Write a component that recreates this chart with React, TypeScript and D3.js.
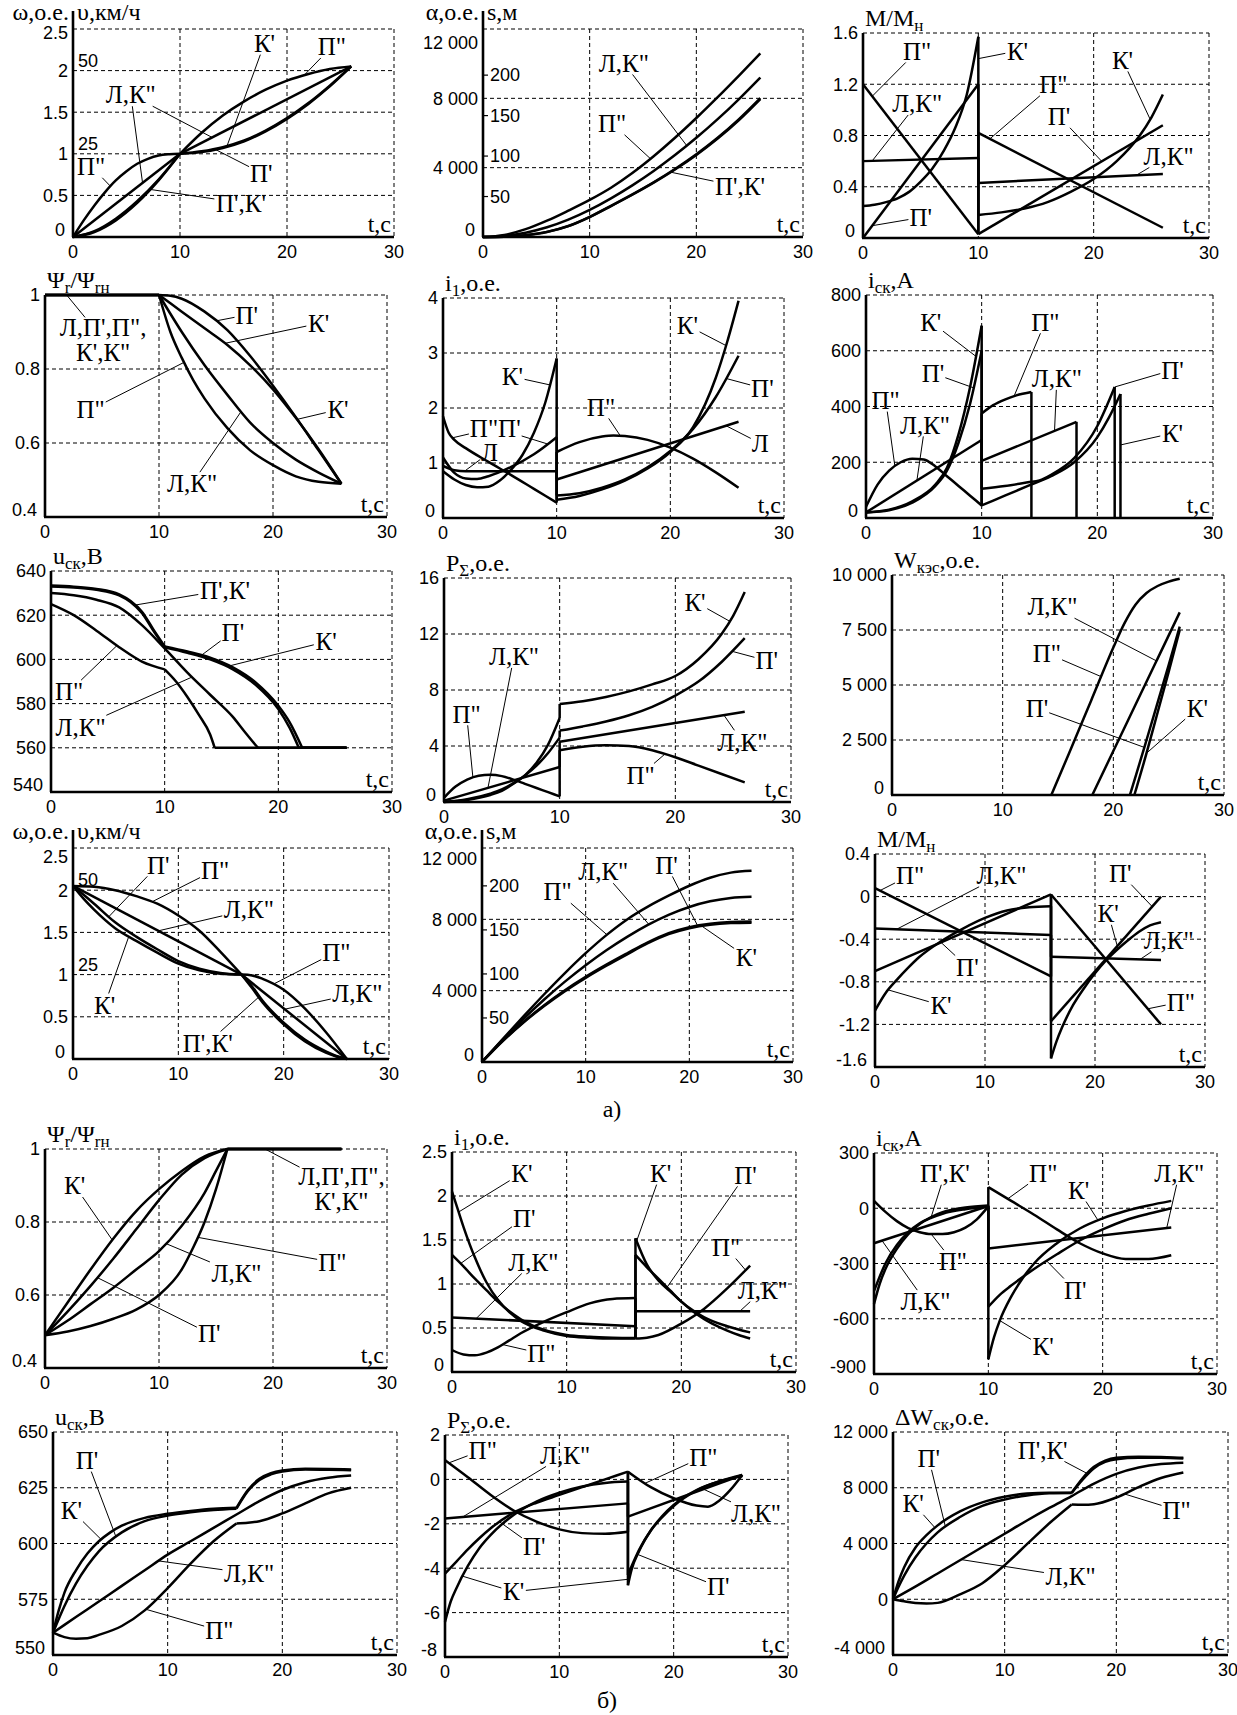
import React from 'react';
import * as d3 from 'd3';

type Pt = [number, number];
type Curve = Pt[][];

// ---------- tick values ----------
const xTicks = [0, 10, 20, 30];
const ytW = [0, 0.5, 1, 1.5, 2, 2.5];
const ytA = [0, 4000, 8000, 12000];
const ytM = [0, 0.4, 0.8, 1.2, 1.6];
const ytPsi = [0.4, 0.6, 0.8, 1];
const ytI1 = [0, 1, 2, 3, 4];
const ytIsk = [0, 200, 400, 600, 800];
const ytU = [540, 560, 580, 600, 620, 640];
const ytP = [0, 4, 8, 12, 16];
const ytWk = [0, 2500, 5000, 7500, 10000];
const ytMd = [-1.6, -1.2, -0.8, -0.4, 0, 0.4];
const ytI1b = [0, 0.5, 1, 1.5, 2, 2.5];
const ytIskb = [-900, -600, -300, 0, 300];
const ytUb = [550, 575, 600, 625, 650];
const ytPb = [-8, -6, -4, -2, 0, 2];
const ytDW = [-4000, 0, 4000, 8000, 12000];
const secV = [25, 50];
const secS = [50, 100, 150, 200];

// ---------- а) разгон ----------
const a1L: Curve = [[[0, 0], [10, 1]], [[10, 1], [26, 2.05]]];
const a1P2: Curve = [[[0, 0], [1, 0.2], [2, 0.38], [3, 0.54], [4, 0.68], [5, 0.79], [6, 0.88], [7, 0.94], [8, 0.98], [9, 0.995], [10, 1]],
  [[10, 1], [12, 1.25], [14, 1.46], [16, 1.63], [18, 1.77], [20, 1.88], [22, 1.96], [24, 2.02], [26, 2.05]]];
const a1P1: Curve = [[[0, 0], [2, 0.06], [4, 0.2], [6, 0.41], [8, 0.68], [10, 1]],
  [[10, 1], [12, 1.02], [14, 1.07], [16, 1.15], [18, 1.27], [20, 1.42], [22, 1.6], [24, 1.81], [26, 2.05]]];
const a1K1: Curve = [[[0, 0], [2, 0.07], [4, 0.22], [6, 0.43], [8, 0.69], [10, 1]],
  [[10, 1], [12, 1.03], [14, 1.08], [16, 1.16], [18, 1.28], [20, 1.43], [22, 1.61], [24, 1.82], [26, 2.05]]];

const a2L: Curve = [[[0, 0], [2, 63], [4, 250], [6, 563], [8, 1002], [10, 1565], [12, 2232], [14, 2981], [16, 3812], [18, 4726], [20, 5722], [22, 6798], [24, 7960], [26, 9202]]];
const a2P2: Curve = [[[0, 0], [2, 119], [4, 451], [6, 939], [8, 1521], [10, 2141], [12, 2845], [14, 3693], [16, 4661], [18, 5725], [20, 6867], [22, 8069], [24, 9315], [26, 10589]]];
const a2P1: Curve = [[[0, 0], [2, 19], [4, 100], [6, 288], [8, 626], [10, 1152], [12, 1784], [14, 2438], [16, 3133], [18, 3891], [20, 4733], [22, 5678], [24, 6748], [26, 7960]]];
const a2K1: Curve = [[[0, 0], [2, 20], [4, 104], [6, 296], [8, 636], [10, 1165], [12, 1800], [14, 2460], [16, 3160], [18, 3925], [20, 4775], [22, 5725], [24, 6800], [26, 8010]]];

const a3P2: Curve = [[[0, 1.2], [10, 0.03]], [[10, 0.82], [26, 0.08]]];
const a3L: Curve = [[[0, 0.6], [10, 0.625]], [[10, 0.43], [26, 0.5]]];
const a3P1: Curve = [[[0, 0], [10, 1.2]], [[10, 0.03], [26, 0.88]]];
const a3K1: Curve = [[[0, 0.25], [1, 0.26], [2, 0.28], [3, 0.31], [4, 0.36], [5, 0.44], [6, 0.54], [7, 0.68], [8, 0.86], [9, 1.12], [10, 1.57]],
  [[10, 0.18], [12, 0.2], [14, 0.23], [16, 0.28], [18, 0.36], [20, 0.46], [22, 0.6], [24, 0.8], [25, 0.94], [26, 1.12]]];

const a4P1: Curve = [[[0, 1], [10, 1]], [[10, 1], [11, 0.998], [12, 0.99], [14, 0.955], [16, 0.905], [18, 0.835], [20, 0.755], [22, 0.67], [24, 0.58], [26, 0.49]]];
const a4K1: Curve = [[[0, 1], [10, 1]], [[10, 1], [12, 0.955], [14, 0.91], [16, 0.865], [18, 0.81], [20, 0.745], [22, 0.668], [24, 0.583], [26, 0.49]]];
const a4L: Curve = [[[0, 1], [10, 1]], [[10, 1], [12, 0.9], [14, 0.81], [16, 0.73], [18, 0.655], [20, 0.6], [22, 0.555], [24, 0.52], [26, 0.49]]];
const a4P2: Curve = [[[0, 1], [10, 1]], [[10, 1], [11, 0.9], [12, 0.83], [13, 0.77], [14, 0.72], [16, 0.64], [18, 0.58], [20, 0.54], [22, 0.51], [24, 0.495], [26, 0.49]]];

const a5P2: Curve = [[[0, 1.85], [0.5, 1.55], [1, 1.42], [2, 1.27], [4, 1.02], [6, 0.78], [8, 0.53], [10, 0.28]],
  [[10, 1.2], [12, 1.38], [14, 1.48], [15, 1.5], [16, 1.49], [18, 1.42], [20, 1.28], [22, 1.08], [24, 0.83], [26, 0.55]]];
const a5P1: Curve = [[[0, 1.1], [1, 0.82], [2, 0.72], [3, 0.71], [4, 0.76], [6, 0.93], [8, 1.16], [10, 1.47]],
  [[10, 0.41], [12, 0.45], [14, 0.55], [16, 0.7], [18, 0.92], [20, 1.22], [22, 1.62], [24, 2.2], [26, 2.95]]];
const a5L: Curve = [[[0, 0.95], [1, 0.87], [2, 0.85], [4, 0.85], [10, 0.85]], [[10, 0.7], [26, 1.75]]];
const a5K1: Curve = [[[0, 0.85], [1, 0.7], [2, 0.6], [3, 0.56], [4, 0.57], [5, 0.68], [6, 0.88], [7, 1.15], [8, 1.55], [9, 2.1], [10, 2.9]],
  [[10, 0.33], [12, 0.4], [14, 0.52], [16, 0.68], [18, 0.9], [20, 1.2], [22, 1.65], [24, 2.55], [25, 3.2], [26, 3.95]]];

const a6K1: Curve = [[[0, 20], [2, 30], [4, 60], [6, 120], [7, 180], [8, 300], [9, 470], [10, 690]],
  [[10, 45], [12, 80], [14, 115], [16, 150], [18, 200], [20, 290], [21, 360], [22, 445]], [[22, 0]]];
const a6P1: Curve = [[[0, 20], [2, 28], [4, 55], [6, 115], [7, 170], [8, 270], [9, 410], [10, 600]],
  [[10, 105], [12, 115], [14, 128], [15, 135], [16, 155], [18, 215], [20, 330], [21.5, 470]], [[21.5, 0]]];
const a6P2: Curve = [[[0, 40], [1, 120], [2, 170], [3, 200], [4, 213], [5, 210], [6, 185], [7, 150], [8, 115], [9, 80], [10, 45]],
  [[10, 375], [11, 405], [12, 425], [13, 440], [14.3, 452]], [[14.3, 0]]];
const a6L: Curve = [[[0, 20], [10, 280]], [[10, 205], [18.2, 345]], [[18.2, 0]]];

const a7P1: Curve = [[[0, 633], [2, 632.5], [4, 631.5], [6, 629], [7, 626], [8, 621], [9, 613], [10, 605.5]],
  [[10, 605.5], [12, 603], [14, 600], [16, 595.5], [18, 588.5], [20, 577.5], [21, 569], [21.8, 560]], [[21.8, 560], [26, 560]]];
const a7K1: Curve = [[[0, 633.4], [2, 632.9], [4, 631.9], [6, 629.4], [7, 626.4], [8, 621.6], [9, 613.6], [10, 605.9]],
  [[10, 605.9], [12, 603.6], [14, 600.8], [16, 596.4], [18, 589.6], [20, 579], [21, 571.5], [22.1, 560]], [[22.1, 560], [26, 560]]];
const a7L: Curve = [[[0, 630], [2, 629], [4, 627], [6, 623.5], [8, 615.5], [10, 605], [12, 594], [14, 584], [16, 574], [17, 567.5], [18.2, 560]], [[18.2, 560], [26, 560]]];
const a7P2: Curve = [[[0, 625], [2, 620], [4, 613], [6, 605.5], [8, 599], [10, 595.5]],
  [[10, 595.5], [11, 590], [12, 583], [13, 575], [14, 566], [14.4, 560]], [[14.4, 560], [26, 560]]];

const a8K1: Curve = [[[0, 0], [2, 0.15], [4, 0.5], [5, 0.8], [6, 1.3], [7, 1.9], [8, 2.8], [9, 4.1], [10, 6.0]],
  [[10, 7.0], [12, 7.2], [14, 7.5], [16, 7.9], [18, 8.4], [20, 9.0], [22, 10.2], [24, 12.0], [25, 13.3], [26, 15.0]]];
const a8P1: Curve = [[[0, 0], [2, 0.2], [4, 0.6], [5, 0.9], [6, 1.35], [7, 1.9], [8, 2.6], [9, 3.5], [10, 4.6]],
  [[10, 5.1], [12, 5.4], [14, 5.75], [16, 6.2], [18, 6.8], [20, 7.6], [22, 8.6], [24, 10.0], [26, 11.7]]];
const a8L: Curve = [[[0, 0.1], [10, 2.5]], [[10, 4.3], [26, 6.45]]];
const a8P2: Curve = [[[0, 0.3], [1, 1.1], [2, 1.6], [3, 1.88], [4, 1.95], [5, 1.85], [6, 1.6], [7, 1.3], [8, 1.0], [9, 0.7], [10, 0.4]],
  [[10, 3.7], [12, 3.95], [14, 4.05], [16, 4.0], [18, 3.7], [20, 3.2], [22, 2.6], [24, 2.0], [26, 1.4]]];

const a9P2: Curve = [[[14.4, 0], [16, 1900], [18, 4300], [20, 6700], [21, 7800], [22, 8650], [23, 9180], [24, 9500], [25, 9700], [26, 9830]]];
const a9L: Curve = [[[18.1, 0], [20, 2000], [22, 4100], [24, 6200], [26, 8300]]];
const a9P1: Curve = [[[21.5, 0], [22, 820], [23, 2500], [24, 4200], [25, 5900], [26, 7650]]];
const a9K1: Curve = [[[21.9, 0], [22, 170], [23, 1900], [24, 3750], [25, 5600], [26, 7500]]];

// ---------- а) торможение ----------
const b1P2: Curve = [[[0, 2.05], [2, 2.04], [4, 2.0], [6, 1.93], [8, 1.84], [10, 1.7], [12, 1.52], [14, 1.27], [16, 1.0]],
  [[16, 1.0], [17, 0.99], [18, 0.95], [20, 0.82], [22, 0.6], [24, 0.32], [26, 0]]];
const b1L: Curve = [[[0, 2.05], [16, 1.0]], [[16, 1.0], [26, 0]]];
const b1P1: Curve = [[[0, 2.05], [2, 1.84], [4, 1.62], [6, 1.45], [8, 1.3], [10, 1.16], [12, 1.07], [14, 1.02], [16, 1.0]],
  [[16, 1.0], [17, 0.86], [18, 0.69], [20, 0.43], [22, 0.23], [24, 0.09], [25, 0.035], [26, 0]]];
const b1K1: Curve = [[[0, 2.05], [1, 1.9], [2, 1.77], [4, 1.55], [6, 1.4], [8, 1.26], [10, 1.13], [12, 1.05], [14, 1.01], [16, 1.0]],
  [[16, 1.0], [17, 0.84], [18, 0.67], [20, 0.41], [22, 0.21], [24, 0.075], [25, 0.03], [26, 0]]];

const b2P2: Curve = [[[0, 0], [2, 1288], [4, 2561], [6, 3799], [8, 4986], [10, 6102], [12, 7116], [14, 7995], [16, 8710], [18, 9324], [20, 9882], [22, 10329], [24, 10619], [26, 10719]]];
const b2L: Curve = [[[0, 0], [2, 1251], [4, 2416], [6, 3503], [8, 4505], [10, 5424], [12, 6262], [14, 7015], [16, 7686], [18, 8253], [20, 8694], [22, 9009], [24, 9198], [26, 9261]]];
const b2P1: Curve = [[[0, 0], [2, 1188], [4, 2246], [6, 3184], [8, 4025], [10, 4775], [12, 5457], [14, 6095], [16, 6713], [18, 7226], [20, 7562], [22, 7758], [24, 7849], [26, 7875]]];
const b2K1: Curve = [[[0, 0], [2, 1170], [4, 2215], [6, 3140], [8, 3975], [10, 4720], [12, 5400], [14, 6040], [16, 6660], [18, 7170], [20, 7505], [22, 7700], [24, 7790], [26, 7815]]];

const b3P2: Curve = [[[0, 0.08], [16, -0.75]], [[16, 0.02], [26, -1.2]]];
const b3L: Curve = [[[0, -0.3], [16, -0.36]], [[16, -0.565], [26, -0.595]]];
const b3P1: Curve = [[[0, -0.7], [16, 0.02]], [[16, -1.17], [26, 0]]];
const b3K1: Curve = [[[0, -1.07], [1, -0.9], [2, -0.78], [3, -0.67], [4, -0.57], [6, -0.42], [8, -0.3], [10, -0.2], [12, -0.13], [14, -0.1], [16, -0.09]],
  [[16, -1.52], [16.5, -1.36], [17, -1.23], [18, -1.02], [19, -0.86], [20, -0.72], [21, -0.6], [22, -0.5], [23, -0.41], [24, -0.33], [25, -0.27], [26, -0.24]]];

// ---------- б) ----------
const c1K1: Curve = [[[0, 0.49], [2, 0.58], [4, 0.67], [6, 0.755], [8, 0.83], [10, 0.89], [12, 0.94], [14, 0.98], [16, 1.0]], [[16, 1], [26, 1]]];
const c1P1: Curve = [[[0, 0.49], [2, 0.555], [4, 0.625], [6, 0.7], [8, 0.78], [10, 0.86], [12, 0.93], [14, 0.975], [16, 1.0]], [[16, 1], [26, 1]]];
const c1L: Curve = [[[0, 0.49], [2, 0.53], [4, 0.575], [6, 0.62], [8, 0.67], [10, 0.72], [12, 0.79], [14, 0.88], [15, 0.94], [16, 1.0]], [[16, 1], [26, 1]]];
const c1P2: Curve = [[[0, 0.49], [2, 0.5], [4, 0.515], [6, 0.535], [8, 0.56], [10, 0.6], [12, 0.67], [13, 0.73], [14, 0.8], [15, 0.89], [16, 1.0]], [[16, 1], [26, 1]]];

const c2K1: Curve = [[[0, 2.05], [0.5, 1.85], [1, 1.65], [2, 1.3], [3, 1.02], [4, 0.82], [5, 0.68], [6, 0.58], [8, 0.47], [10, 0.41], [12, 0.39], [14, 0.38], [16, 0.38]],
  [[16, 1.52], [17, 1.22], [18, 1.04], [19, 0.92], [20, 0.8], [21, 0.69], [22, 0.6], [23, 0.53], [24, 0.47], [25, 0.42], [26, 0.38]]];
const c2P1: Curve = [[[0, 1.33], [1, 1.2], [2, 1.06], [3, 0.93], [4, 0.8], [5, 0.69], [6, 0.6], [8, 0.48], [10, 0.42], [12, 0.4], [14, 0.39], [16, 0.385]],
  [[16, 1.33], [17, 1.19], [18, 1.06], [19, 0.93], [20, 0.8], [21, 0.7], [22, 0.62], [24, 0.52], [26, 0.45]]];
const c2L: Curve = [[[0, 0.62], [16, 0.52]], [[16, 0.69], [26, 0.69]]];
const c2P2: Curve = [[[0, 0.25], [1, 0.2], [2, 0.19], [3, 0.22], [4, 0.28], [5, 0.36], [6, 0.44], [8, 0.57], [10, 0.68], [12, 0.78], [14, 0.83], [16, 0.84]],
  [[16, 0.38], [17, 0.39], [18, 0.42], [20, 0.55], [22, 0.72], [24, 0.95], [26, 1.21]]];

const c3P2: Curve = [[[0, 40], [1, -20], [2, -70], [3, -108], [4, -130], [5, -140], [6, -140], [7, -130], [8, -105], [9, -60], [10, 10]],
  [[10, 115], [12, 40], [14, -35], [16, -115], [18, -190], [20, -245], [22, -275], [24, -275], [26, -255]]];
const c3K1: Curve = [[[0, -520], [0.5, -410], [1, -330], [2, -220], [3, -140], [4, -85], [5, -48], [6, -22], [8, 4], [10, 15]],
  [[10, -820], [10.5, -700], [11, -610], [12, -480], [13, -380], [14, -300], [16, -190], [18, -110], [20, -55], [22, -15], [24, 15], [26, 40]]];
const c3P1: Curve = [[[0, -450], [1, -300], [2, -200], [3, -130], [4, -82], [5, -52], [6, -30], [8, -5], [10, 10]],
  [[10, -535], [11, -470], [12, -420], [14, -330], [16, -250], [18, -175], [20, -115], [22, -65], [24, -30], [26, 0]]];
const c3L: Curve = [[[0, -190], [10, 12]], [[10, -218], [26, -105]]];

const c4K1: Curve = [[[0, 560], [0.5, 570], [1, 578], [2, 588], [3, 595.5], [4, 601], [5, 605], [6, 608], [8, 611.5], [10, 613.3], [12, 614.6], [14, 615.6], [16, 616]],
  [[16, 616], [17, 624], [18, 629], [19, 631.5], [20, 632.7], [22, 633.5], [24, 633.4], [26, 633.2]]];
const c4P1: Curve = [[[0, 560], [1, 572], [2, 582], [3, 590], [4, 596.5], [6, 605], [8, 610], [10, 612.5], [12, 614], [14, 615], [16, 615.6]],
  [[16, 615.6], [17, 623.5], [18, 628.5], [19, 631], [20, 632.3], [22, 633.2], [24, 633.1], [26, 632.9]]];
const c4L: Curve = [[[0, 560], [2, 567], [4, 574], [6, 581], [8, 588], [10, 595], [12, 601], [14, 607], [16, 613], [18, 619], [20, 624], [22, 627.5], [24, 629.5], [26, 630.5]]];
const c4P2: Curve = [[[0, 560], [1, 558], [2, 557.3], [3, 557.5], [4, 559], [6, 563], [8, 570], [10, 580], [12, 591], [14, 601], [16, 609]],
  [[16, 609], [17, 609.3], [18, 610], [20, 613.5], [22, 618], [24, 622.5], [26, 625]]];

const c5P2: Curve = [[[0, 0.87], [2, 0.1], [4, -0.7], [6, -1.4], [8, -1.9], [10, -2.25], [12, -2.42], [14, -2.45], [16, -2.36]],
  [[16, 0.35], [18, -0.35], [20, -0.85], [22, -1.18], [23, -1.23], [24, -0.95], [25, -0.45], [26, 0.2]]];
const c5L: Curve = [[[0, -1.76], [16, -1.08]], [[16, -1.68], [26, 0.2]]];
const c5P1: Curve = [[[0, -4.24], [1, -3.7], [2, -3.15], [3, -2.65], [4, -2.2], [6, -1.5], [8, -1.05], [10, -0.7], [12, -0.35], [14, 0.0], [16, 0.35]],
  [[16, -4.3], [16.5, -3.7], [17, -3.15], [18, -2.3], [19, -1.7], [20, -1.2], [22, -0.5], [24, -0.08], [26, 0.2]]];
const c5K1: Curve = [[[0, -6.42], [0.5, -5.5], [1, -4.9], [2, -3.9], [3, -3.1], [4, -2.5], [6, -1.6], [8, -1.0], [10, -0.6], [12, -0.32], [14, -0.16], [16, -0.1]],
  [[16, -4.77], [16.3, -4.1], [17, -3.2], [18, -2.3], [19, -1.65], [20, -1.15], [22, -0.48], [24, -0.1], [26, 0.15]]];

const c6K1: Curve = [[[0, 0], [0.5, 1300], [1, 2300], [2, 3700], [3, 4600], [4, 5300], [6, 6300], [8, 6950], [10, 7350], [12, 7580], [14, 7650], [16, 7640]],
  [[16, 7640], [17, 8700], [18, 9500], [19, 9950], [20, 10150], [22, 10220], [24, 10200], [26, 10150]]];
const c6P1: Curve = [[[0, 0], [0.5, 900], [1, 1700], [2, 3000], [3, 4000], [4, 4800], [6, 5900], [8, 6700], [10, 7150], [12, 7450], [14, 7600], [16, 7620]],
  [[16, 7620], [17, 8600], [18, 9400], [19, 9850], [20, 10050], [22, 10150], [24, 10150], [26, 10100]]];
const c6L: Curve = [[[0, 0], [2, 900], [4, 1850], [6, 2800], [8, 3750], [10, 4700], [12, 5650], [14, 6550], [16, 7400], [18, 8300], [20, 9000], [22, 9450], [24, 9700], [26, 9800]]];
const c6P2: Curve = [[[0, 0], [1, -150], [2, -270], [3, -300], [4, -260], [6, 350], [8, 1150], [10, 2450], [12, 3950], [14, 5450], [16, 6800]],
  [[16, 6800], [17, 6780], [18, 6820], [20, 7300], [22, 8050], [24, 8700], [26, 9100]]];

// ---------- labels ----------
const sP1 = "П'", sP2 = 'П"', sK1 = "К'", sLK = 'Л,К"', sPK = "П',К'";
type Lbl = { s: string; at: Pt; to: [number, Curve | number][] };
const L = (s: string, lt: number, lv: number, ...to: [number, Curve | number][]): Lbl => ({ s, at: [lt, lv], to });

type Cfg = {
  l: number; r: number; t: number; b: number; dom: [number, number]; yt: number[]; topDy?: number;
  title?: [string, boolean][]; bar?: [string, string];
  sec?: { vals: number[]; max: number; kind: 'plain' | 'tick' };
  curves: Curve[]; labels: Lbl[];
};

const tM: [string, boolean][] = [['M/M', false], ['н', true]];
const tPsi: [string, boolean][] = [['Ψ', false], ['r', true], ['/Ψ', false], ['rн', true]];
const tI1: [string, boolean][] = [['i', false], ['1', true], [',о.е.', false]];
const tIsk: [string, boolean][] = [['i', false], ['ск', true], [',А', false]];
const tU: [string, boolean][] = [['u', false], ['ск', true], [',В', false]];
const tP: [string, boolean][] = [['P', false], ['Σ', true], [',о.е.', false]];
const tWk: [string, boolean][] = [['W', false], ['кэс', true], [',о.е.', false]];
const tDW: [string, boolean][] = [['ΔW', false], ['ск', true], [',о.е.', false]];

const panels: Cfg[] = [
  { l: 73, r: 394, t: 29, b: 237, dom: [0, 2.5], yt: ytW, topDy: 4, bar: ['ω,о.е.', 'υ,км/ч'], sec: { vals: secV, max: 62.5, kind: 'plain' },
    curves: [a1L, a1P2, a1P1, a1K1],
    labels: [L(sK1, 17.9, 2.33, [14.4, a1K1]), L(sP2, 24.2, 2.29, [21.6, a1P2]), L(sLK, 5.4, 1.71, [6.5, a1L], [13, a1L]),
      L(sP2, 1.7, 0.85, [3.5, a1P2]), L(sP1, 17.6, 0.77, [13.3, a1P1]), L(sPK, 15.7, 0.41, [7.2, a1P1])] },
  { l: 483, r: 803, t: 29, b: 237, dom: [0, 12000], yt: ytA, topDy: 14, bar: ['α,о.е.', 's,м'], sec: { vals: secS, max: 257, kind: 'tick' },
    curves: [a2L, a2P2, a2P1, a2K1],
    labels: [L(sLK, 13.2, 10040, [19.1, a2L]), L(sP2, 12.1, 6560, [15.7, a2P2]), L(sPK, 24.1, 2900, [17.6, a2P1])] },
  { l: 863, r: 1209, t: 33, b: 238, dom: [0, 1.6], yt: ytM, title: tM,
    curves: [a3P2, a3L, a3P1, a3K1],
    labels: [L(sP2, 4.7, 1.46, [0.8, a3P2]), L(sLK, 4.7, 1.05, [0.8, a3L]), L(sP1, 5.0, 0.16, [0.8, a3P1]), L(sK1, 13.4, 1.46, [10, 1.4]),
      L(sP2, 16.5, 1.2, [11, a3P2]), L(sK1, 22.5, 1.39, [24.9, a3K1]), L(sP1, 17, 0.95, [20.7, a3P1]), L(sLK, 26.5, 0.64, [23.7, a3L])] },
  { l: 45, r: 387, t: 295, b: 517, dom: [0.4, 1], yt: ytPsi, title: tPsi,
    curves: [a4P1, a4K1, a4L, a4P2],
    labels: [L('Л,П\',П",\nК\',К"', 5.1, 0.88, [1.9, 1.0]), L(sP1, 17.7, 0.946, [15, a4P1]), L(sK1, 24, 0.923, [15.8, a4K1]),
      L(sP2, 4.0, 0.69, [12.2, a4P2]), L(sK1, 25.7, 0.69, [22.1, a4K1]), L(sLK, 12.9, 0.49, [17.2, a4L])] },
  { l: 443, r: 784, t: 298, b: 518, dom: [0, 4], yt: ytI1, title: tI1,
    curves: [a5P2, a5P1, a5L, a5K1],
    labels: [L(sK1, 6.1, 2.57, [9.4, a5K1]), L('П"П\'', 4.6, 1.64, [0.85, a5P2], [9.2, a5P1]), L('Л', 4.1, 1.19, [1.9, a5L]),
      L(sP2, 13.9, 2.02, [15.6, a5P2]), L(sK1, 21.5, 3.5, [24.9, a5K1]), L(sP1, 28.1, 2.36, [24.9, a5P1]), L('Л', 27.9, 1.36, [24.9, a5L])] },
  { l: 866, r: 1213, t: 295, b: 518, dom: [0, 800], yt: ytIsk, title: tIsk,
    curves: [a6K1, a6P1, a6P2, a6L],
    labels: [L(sK1, 5.6, 704, [9.5, a6K1]), L(sP1, 5.8, 519, [9.3, a6P1]), L(sP2, 1.7, 423, [2.5, a6P2]), L(sLK, 5.1, 334, [4.4, a6L]),
      L(sP2, 15.5, 704, [12.8, a6P2]), L(sLK, 16.5, 501, [16.3, a6L]), L(sP1, 26.5, 531, [21.5, 470]), L(sK1, 26.5, 304, [22, 262])] },
  { l: 51, r: 392, t: 571, b: 792, dom: [540, 640], yt: ytU, title: tU,
    curves: [a7P1, a7K1, a7L, a7P2],
    labels: [L(sPK, 15.3, 631.4, [7.3, a7P1]), L(sP1, 16, 612.5, [13.1, a7P1]), L(sK1, 24.2, 608, [15.7, a7K1]),
      L(sP2, 1.6, 585.4, [5.8, a7P2]), L(sLK, 2.6, 569.5, [12.4, a7L])] },
  { l: 444, r: 791, t: 578, b: 802, dom: [0, 16], yt: ytP, title: tP,
    curves: [a8K1, a8P1, a8L, a8P2],
    labels: [L(sLK, 6.05, 10.4, [3.8, a8L]), L(sP2, 1.95, 6.3, [2.5, a8P2]), L(sK1, 21.7, 14.3, [24.7, a8K1]),
      L(sP1, 27.9, 10.1, [24.9, a8P1]), L(sLK, 25.8, 4.3, [24.2, a8L]), L(sP2, 17, 1.93, [19.1, a8P2])] },
  { l: 892, r: 1224, t: 575, b: 795, dom: [0, 10000], yt: ytWk, title: tWk,
    curves: [a9P2, a9L, a9P1, a9K1],
    labels: [L(sLK, 14.5, 8560, [23.9, a9L]), L(sP2, 14, 6440, [18.9, a9P2]), L(sP1, 13.1, 3940, [22.8, a9P1]), L(sK1, 27.6, 3940, [23.0, a9K1])] },
  { l: 73, r: 389, t: 848, b: 1059, dom: [0, 2.5], yt: ytW, topDy: 9, bar: ['ω,о.е.', 'υ,км/ч'], sec: { vals: secV, max: 62.5, kind: 'plain' },
    curves: [b1P2, b1L, b1P1, b1K1],
    labels: [L(sP1, 8.1, 2.3, [3.4, b1P1]), L(sP2, 13.5, 2.24, [7.5, b1P2]), L(sLK, 16.7, 1.77, [8.1, b1L]), L(sK1, 3.0, 0.64, [5.3, b1K1]),
      L(sP2, 25, 1.27, [19, b1P2]), L(sLK, 27, 0.78, [20.1, b1L]), L(sPK, 12.8, 0.19, [17.7, b1P1])] },
  { l: 482, r: 793, t: 848, b: 1062, dom: [0, 12000], yt: ytA, topDy: 11, bar: ['α,о.е.', 's,м'], sec: { vals: secS, max: 243, kind: 'tick' },
    curves: [b2P2, b2L, b2P1, b2K1],
    labels: [L(sLK, 11.7, 10670, [16.1, b2L]), L(sP2, 7.3, 9550, [12.05, b2P2]), L(sP1, 17.8, 11050, [20.8, b2P1]), L(sK1, 25.5, 5900, [21.2, b2K1])] },
  { l: 875, r: 1205, t: 854, b: 1067, dom: [-1.6, 0.4], yt: ytMd, title: tM,
    curves: [b3P2, b3L, b3P1, b3K1],
    labels: [L(sP2, 3.2, 0.2, [0.45, b3P2]), L(sLK, 11.5, 0.2, [1.95, b3L]), L(sP1, 8.4, -0.66, [6, b3P1]), L(sK1, 6.0, -1.02, [1.2, b3K1]),
      L(sP1, 22.3, 0.22, [25.2, b3P1]), L(sK1, 21.2, -0.157, [22.1, b3K1]), L(sLK, 26.7, -0.41, [24.1, b3L]), L(sP2, 27.8, -0.99, [24.8, b3P2])] },
  { l: 45, r: 387, t: 1149, b: 1368, dom: [0.4, 1], yt: ytPsi, title: tPsi,
    curves: [c1K1, c1P1, c1L, c1P2],
    labels: [L(sK1, 2.6, 0.9, [5.9, c1K1]), L('Л,П\',П",\nК\',К"', 26, 0.89, [19.3, 1.0]), L(sP2, 25.2, 0.69, [13.4, c1P2]),
      L(sLK, 16.8, 0.66, [10.6, c1L]), L(sP1, 14.4, 0.495, [4.6, c1P1])] },
  { l: 452, r: 796, t: 1152, b: 1372, dom: [0, 2.5], yt: ytI1b, title: tI1,
    curves: [c2K1, c2P1, c2L, c2P2],
    labels: [L(sK1, 6.1, 2.26, [0.58, c2K1]), L(sP1, 6.3, 1.75, [0.75, c2P1]), L(sLK, 7.1, 1.25, [2.1, c2L]), L(sP2, 7.8, 0.21, [4.4, c2P2]),
      L(sK1, 18.2, 2.26, [16, 1.45]), L(sP1, 25.6, 2.24, [18.75, c2P1]), L(sP2, 23.9, 1.42, [25.6, c2P2]), L(sLK, 27.1, 0.93, [25.1, c2L])] },
  { l: 874, r: 1217, t: 1153, b: 1374, dom: [-900, 300], yt: ytIskb, title: tIsk,
    curves: [c3P2, c3K1, c3P1, c3L],
    labels: [L(sPK, 6.2, 190, [5.0, c3K1]), L(sP2, 6.9, -290, [5.0, c3P2]), L(sLK, 4.5, -507, [0.7, c3L]), L(sP2, 14.8, 190, [11.7, c3P2]),
      L(sK1, 17.9, 99, [19.6, c3K1]), L(sLK, 26.7, 190, [25.6, c3L]), L(sP1, 17.6, -444, [15.1, c3P1]), L(sK1, 14.8, -752, [11.0, c3K1])] },
  { l: 53, r: 397, t: 1432, b: 1655, dom: [550, 650], yt: ytUb, title: tU,
    curves: [c4K1, c4P1, c4L, c4P2],
    labels: [L(sP1, 2.96, 637.4, [5.5, c4P1]), L(sK1, 1.6, 615, [4.2, c4K1]), L(sLK, 17.1, 586.6, [9.2, c4L]), L(sP2, 14.5, 561, [8.1, c4P2])] },
  { l: 445, r: 788, t: 1435, b: 1657, dom: [-8, 2], yt: ytPb, title: tP,
    curves: [c5P2, c5L, c5P1, c5K1],
    labels: [L(sP2, 3.3, 1.32, [0.33, c5P2]), L(sLK, 10.5, 1.1, [1.54, c5L]), L(sP1, 7.8, -3.03, [4.8, c5P1]),
      L(sK1, 6.0, -5.06, [1.54, c5K1], [16, -4.5]), L(sP2, 22.6, 1.02, [17.5, c5P2]), L(sLK, 27.2, -1.53, [22.6, c5L]), L(sP1, 23.9, -4.83, [16.8, c5P1])] },
  { l: 893, r: 1228, t: 1432, b: 1655, dom: [-4000, 12000], yt: ytDW, title: tDW,
    curves: [c6K1, c6P1, c6L, c6P2],
    labels: [L(sP1, 3.2, 10110, [4.7, c6P1]), L(sK1, 1.8, 6885, [3.76, c6K1]), L(sPK, 13.4, 10710, [17.4, c6K1]),
      L(sP2, 25.4, 6400, [20.7, c6P2]), L(sLK, 15.9, 1620, [6.1, c6L])] },
];

const SERIF = '"Liberation Serif", "Times New Roman", serif';
const SANS = '"Liberation Sans", Arial, sans-serif';
const LFS = 25;

function valAt(c: Curve, t: number): number {
  for (const seg of c) {
    if (seg.length < 2 || t < seg[0][0] || t > seg[seg.length - 1][0]) continue;
    for (let i = 1; i < seg.length; i++) {
      const [t0, v0] = seg[i - 1], [t1, v1] = seg[i];
      if (t <= t1) return t1 === t0 ? v0 : v0 + (v1 - v0) * (t - t0) / (t1 - t0);
    }
  }
  return NaN;
}

const cw: Record<string, number> = { 'П': 0.72, 'Л': 0.67, 'К': 0.72, "'": 0.18, '"': 0.41, ',': 0.25 };
const textW = (s: string) => Array.from(s).reduce((a, c) => a + (cw[c] ?? 0.5), 0) * LFS;

const fmt = (v: number) => (Math.abs(v) >= 1000 ? d3.format(',')(v).replace(/,/g, ' ').replace('−', '-') : String(v));

function Panel({ p }: { p: Cfg }) {
  const x = d3.scaleLinear().domain([0, 30]).range([p.l, p.r]);
  const y = d3.scaleLinear().domain(p.dom).range([p.b, p.t]);
  const line = d3.line<Pt>().x(d => x(d[0])).y(d => y(d[1])).curve(d3.curveMonotoneX);
  const top = p.dom[1];
  let prevSub = false;

  return (
    <g>
      {/* grid */}
      {p.yt.filter(v => v !== p.dom[0]).map(v => (
        <line key={'gy' + v} x1={p.l} x2={p.r} y1={y(v)} y2={y(v)} stroke="#000" strokeWidth={1} strokeDasharray="4,3" />
      ))}
      {xTicks.slice(1).map(v => (
        <line key={'gx' + v} x1={x(v)} x2={x(v)} y1={p.t} y2={p.b} stroke="#000" strokeWidth={1} strokeDasharray="4,3" />
      ))}
      {/* axes */}
      <line x1={p.l} x2={p.l} y1={p.b} y2={p.bar ? p.t - 18 : p.t} stroke="#000" strokeWidth={2.6} />
      <line x1={p.l - 1} x2={p.r} y1={p.b} y2={p.b} stroke="#000" strokeWidth={2.6} />
      {/* ticks */}
      {p.yt.map(v => (
        <text key={'ty' + v} x={p.l - 5 - (v === p.dom[0] ? 3 : 0)}
          y={y(v) + (v === top ? p.topDy ?? 0 : 0) - (v === p.dom[0] ? 7 : 0)} dy="0.35em" textAnchor="end"
          fontFamily={SANS} fontSize={18}>{fmt(v)}</text>
      ))}
      {xTicks.map(v => (
        <text key={'tx' + v} x={x(v)} y={p.b + 21} textAnchor="middle" fontFamily={SANS} fontSize={18}>{v}</text>
      ))}
      {/* secondary scale */}
      {p.sec && p.sec.vals.map(v => {
        const ys = d3.scaleLinear().domain([0, p.sec!.max]).range([p.b, p.t]);
        return p.sec!.kind === 'plain' ? (
          <text key={'s' + v} x={p.l + 5} y={ys(v) - 4} fontFamily={SANS} fontSize={18}>{v}</text>
        ) : (
          <g key={'s' + v}>
            <line x1={p.l} x2={p.l + 5} y1={ys(v)} y2={ys(v)} stroke="#000" strokeWidth={1.2} />
            <text x={p.l + 7} y={ys(v)} dy="0.35em" fontFamily={SANS} fontSize={18}>{v}</text>
          </g>
        );
      })}
      {/* titles */}
      {p.bar && (
        <g fontFamily={SERIF} fontSize={24}>
          <text x={p.l - 4} y={p.t - 9} textAnchor="end">{p.bar[0]}</text>
          <text x={p.l + 4} y={p.t - 9}>{p.bar[1]}</text>
        </g>
      )}
      {p.title && (
        <text x={p.l + 2} y={p.t - 7} fontFamily={SERIF} fontSize={24}>
          {p.title.map(([s, sub], i) => {
            const dy = sub === prevSub ? 0 : sub ? 5 : -5;
            prevSub = sub;
            return <tspan key={i} dy={dy} fontSize={sub ? 17 : 24}>{s}</tspan>;
          })}
        </text>
      )}
      <text x={p.r - 3} y={p.b - 5} textAnchor="end" fontFamily={SERIF} fontSize={24}>t,c</text>
      {/* curves */}
      {p.curves.map((c, ci) => (
        <g key={'c' + ci} fill="none" stroke="#000" strokeWidth={2.5} strokeLinejoin="round">
          {c.map((seg, si) => (seg.length > 1 ? <path key={si} d={line(seg) ?? ''} /> : null))}
          {c.slice(1).map((seg, si) => {
            const a = c[si][c[si].length - 1], b = seg[0];
            return <line key={'j' + si} x1={x(a[0])} y1={y(a[1])} x2={x(b[0])} y2={y(b[1])} />;
          })}
        </g>
      ))}
      {/* labels */}
      {p.labels.map((lb, li) => {
        const lines = lb.s.split('\n');
        const cx = x(lb.at[0]), cy = y(lb.at[1]);
        const hw = Math.max(...lines.map(textW)) / 2 + 1;
        const hh = lines.length * LFS * 0.42 + 1;
        return (
          <g key={'l' + li}>
            {lb.to.map(([tt, ref], ti) => {
              const tx = x(tt), ty = y(typeof ref === 'number' ? ref : valAt(ref, tt));
              const dx = tx - cx, dy = ty - cy;
              const s = Math.min(hw / Math.max(Math.abs(dx), 1e-6), hh / Math.max(Math.abs(dy), 1e-6));
              return <line key={ti} x1={cx + dx * s} y1={cy + dy * s} x2={tx} y2={ty} stroke="#000" strokeWidth={1} />;
            })}
            <text x={cx} y={cy - (lines.length - 1) * LFS * 0.5} textAnchor="middle" fontFamily={SERIF} fontSize={LFS}>
              {lines.map((ln, i) => (
                <tspan key={i} x={cx} dy={i === 0 ? '0.35em' : LFS}>{ln}</tspan>
              ))}
            </text>
          </g>
        );
      })}
    </g>
  );
}

export default function App() {
  return (
    <svg width={1237} height={1715} viewBox="0 0 1237 1715" style={{ position: 'absolute', left: 0, top: 0, background: '#fff' }}>
      <rect width={1237} height={1715} fill="#fff" />
      {panels.map((p, i) => <Panel key={i} p={p} />)}
      <text x={612} y={1117} textAnchor="middle" fontFamily={SERIF} fontSize={24}>а)</text>
      <text x={607} y={1708} textAnchor="middle" fontFamily={SERIF} fontSize={24}>б)</text>
    </svg>
  );
}
